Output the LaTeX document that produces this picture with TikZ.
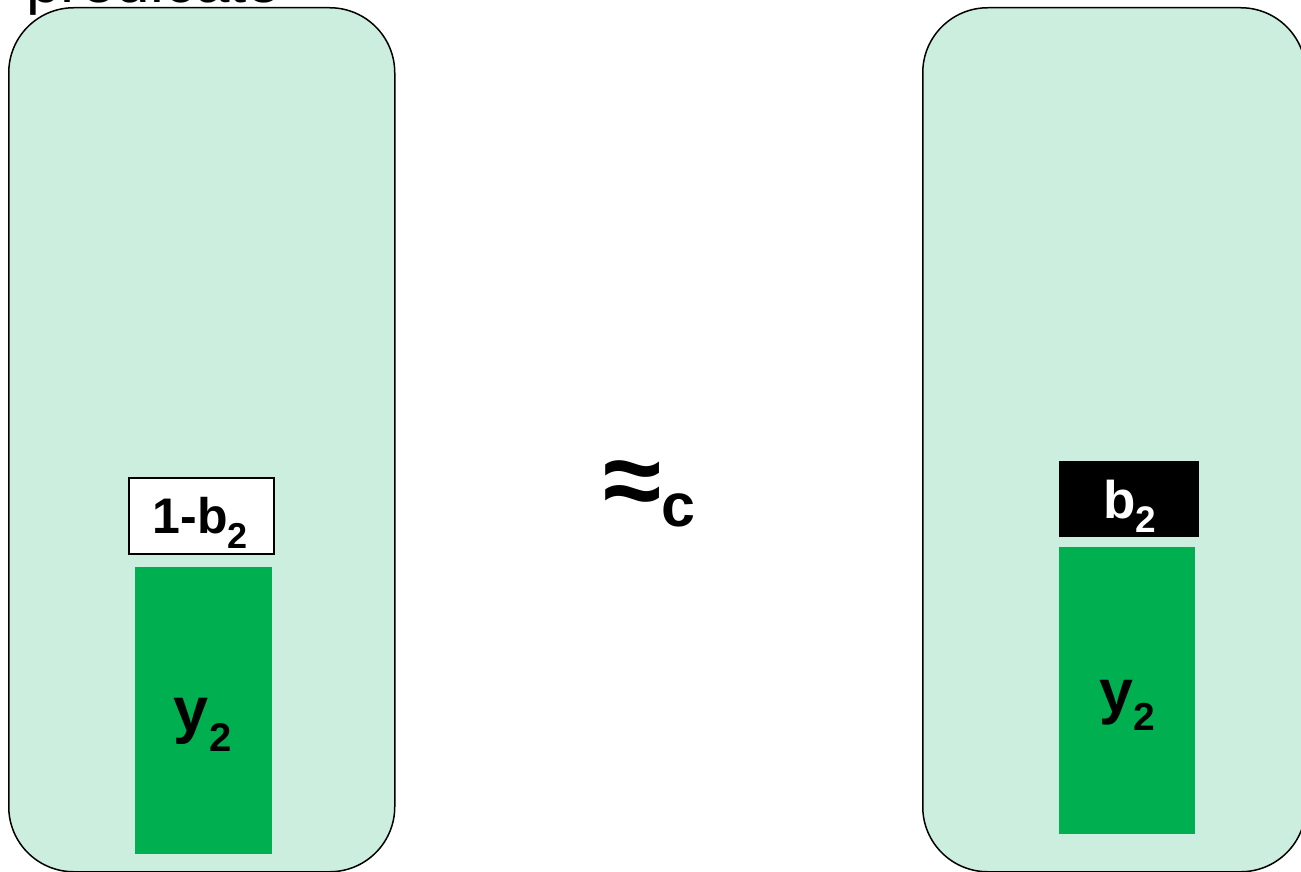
\documentclass[tikz,border=0pt]{standalone}
\usepackage{fontspec}
\setmainfont{Liberation Sans}
\usetikzlibrary{positioning}
\definecolor{panelgreen}{RGB}{204,238,222}
\definecolor{bargreen}{RGB}{0,176,80}
\newcommand{\sub}[2]{\raisebox{-#2pt}{\fontsize{#1}{#1}\selectfont 2}}
\begin{document}
\begin{tikzpicture}[x=1pt, y=-1pt,
    panel/.style={draw=black, line width=1.5pt, fill=panelgreen, rounded corners=65pt, anchor=north west, inner sep=0pt},
    bar/.style={fill=bargreen, anchor=north west, inner sep=0pt},
    lbl/.style={inner sep=0pt, anchor=base, font=\bfseries}]
    \useasboundingbox (0,0) rectangle (1301,872);
    \clip (0,0) rectangle (1301,872);
    % the two worlds
    \node[panel, minimum width=386pt, minimum height=864pt] (left) at (8,7) {};
    \node[panel, minimum width=383pt, minimum height=864pt] (right) at (922,7) {};
    % heading, mostly off the top
    \node[inner sep=0pt, anchor=base west, font=\fontsize{62}{70}\selectfont] (head) at (26,3) {predicate};
    % left world: y_2 under the complemented bit
    \node[bar, minimum width=137pt, minimum height=287pt] (ybarL) at (135,567) {};
    \node[draw=black, line width=1.5pt, fill=white, anchor=north west, minimum width=145pt, minimum height=76pt] (bitL) at (128,477) {};
    \node[lbl, font=\bfseries\fontsize{50}{60}\selectfont] (bitLtxt) at (200.5,533) {1-b\sub{36}{15}};
    \node[lbl, anchor=base west, font=\bfseries\fontsize{63}{70}\selectfont] (yL) at (173,731) {y\kern1pt\sub{40}{20}};
    % right world: y_2 under the bit itself
    \node[bar, minimum width=136pt, minimum height=287pt] (ybarR) at (1059,547) {};
    \node[fill=black, anchor=north west, minimum width=140pt, minimum height=76pt] (bitR) at (1059,461) {};
    \node[lbl, text=white, font=\bfseries\fontsize{53}{60}\selectfont] (bitRtxt) at (1130,518) {b\sub{37}{14}};
    \node[lbl, anchor=base west, font=\bfseries\fontsize{61}{70}\selectfont] (yR) at (1099,712) {y\sub{39}{18}};
    % indistinguishable
    \node[lbl, anchor=base west, font=\bfseries\fontsize{106}{110}\selectfont] (approx) at (603,516) {≈\raisebox{-10pt}{\fontsize{61}{61}\selectfont c}};
\end{tikzpicture}
\end{document}
